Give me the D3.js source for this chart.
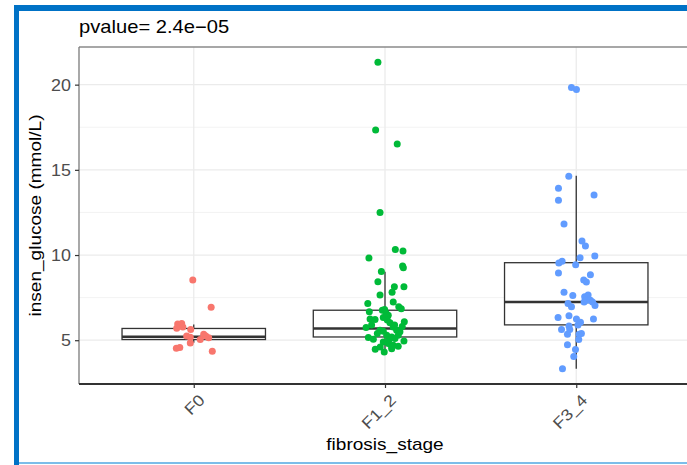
<!DOCTYPE html>
<html>
<head>
<meta charset="utf-8">
<script src="https://cdnjs.cloudflare.com/ajax/libs/d3/7.8.5/d3.min.js"></script>
<style>
  body { margin: 0; background: #fff; }
  text { font-family: "Liberation Sans", Arial, sans-serif; }
</style>
</head>
<body>
<div id="chart"></div>
<script>
// categories and colours
var stages = ["F0", "F1_2", "F3_4"];
var colors = ["#F8766D", "#00BA38", "#619CFF"];
var yTicks = [5, 10, 15, 20];
var yMinor = [7.5, 12.5, 17.5];
var pLabel = "pvalue= 2.4e\u221205";

// box statistics: [lower whisker, q1, median, q3, upper whisker]
var boxF0 = [4.85, 5.04, 5.2, 5.69, 5.92];
var boxF12 = [4.31, 5.19, 5.69, 6.76, 9.02];
var boxF34 = [3.33, 5.9, 7.24, 9.55, 14.65];

// jittered points: [jitter (category units), glucose]
var ptsF0 = [[-0.005,8.53],[0.091,6.94],[-0.084,5.95],[-0.063,5.98],[-0.078,5.85],[-0.057,5.78],
  [-0.089,5.7],[-0.016,5.63],[-0.037,5.24],[-0.018,5.18],[0.052,5.35],[0.063,5.24],[0.078,5.14],
  [0.034,5.04],[-0.018,4.84],[-0.091,4.53],[-0.073,4.57],[0.097,4.35]];
var ptsF12 = [[-0.037,21.31],[-0.049,17.34],[0.064,16.51],[-0.026,12.5],[0.054,10.33],[0.094,10.24],
  [-0.084,9.82],[0.092,9.35],[0.096,9.25],[-0.019,9.04],[-0.037,8.43],[0.099,8.14],[0.049,8.14],
  [0.037,7.82],[-0.026,7.65],[-0.090,7.16],[0.043,7.25],[0.072,6.96],[0.085,6.84],[-0.082,6.67],
  [-0.014,6.76],[-0.002,6.8],[0.017,6.47],[0.101,6.08],[-0.078,6.25],[-0.052,6.22],[-0.009,6.34],
  [0.012,6.18],[0.026,6.02],[-0.099,5.75],[-0.026,5.59],[-0.009,5.53],[0.043,5.78],[0.061,5.59],
  [0.078,5.49],[-0.087,5.16],[-0.061,5.06],[0.009,5.29],[0.035,5.19],[0.052,5.1],[0.069,5.29],
  [0.099,4.96],[-0.009,4.9],[0.017,4.8],[0.043,4.71],[-0.051,4.47],[-0.004,4.31],[0.035,4.61],
  [0.069,4.65],[-0.04,5.4],[0.02,5.0],[0.05,5.9],[-0.07,5.9],[0.005,6.6],[0.09,5.8],[-0.025,4.6],
  [0.035,4.5]];
var ptsF34 = [[-0.025,19.84],[0.001,19.71],[-0.039,14.63],[-0.093,13.92],[0.093,13.53],[-0.093,13.22],
  [-0.064,11.82],[0.030,10.82],[0.048,10.53],[0.020,9.84],[0.097,9.94],[-0.091,9.53],[-0.074,9.63],
  [-0.003,9.43],[-0.093,8.94],[0.074,8.84],[0.039,8.53],[0.053,8.41],[-0.064,7.82],[-0.018,7.63],
  [0.044,7.55],[0.062,7.65],[0.041,7.25],[0.053,7.35],[0.074,7.35],[0.085,7.25],[0.098,7.04],
  [-0.043,7.16],[-0.025,6.96],[-0.095,6.34],[-0.038,6.43],[0.001,6.24],[0.022,6.06],[0.009,5.9],
  [0.090,6.24],[-0.077,5.63],[-0.038,5.84],[-0.034,5.63],[-0.046,5.35],[0.015,5.35],[0.027,5.39],
  [0.013,5.04],[-0.046,4.73],[-0.004,4.45],[-0.013,4.04],[-0.072,3.33]];

var boxes = [boxF0, boxF12, boxF34];
var points = [ptsF0, ptsF12, ptsF34];

var W = 687, H = 465;
var panel = {left: 79, right: 691, top: 47, bottom: 384};
var sx = 1.12; // the text in the original is drawn a little wide

var svg = d3.select("#chart").append("svg")
  .attr("width", W).attr("height", H);

// blue frame around the figure
svg.append("rect").attr("x", 14).attr("y", 5).attr("width", 5).attr("height", H - 5).attr("fill", "#0072C6");
svg.append("rect").attr("x", 14).attr("y", 5).attr("width", W - 14).attr("height", 6).attr("fill", "#0072C6");
svg.append("rect").attr("x", 19).attr("y", 462).attr("width", W - 19).attr("height", 2).attr("fill", "#7cbde9");

var x = d3.scalePoint().domain(stages).range([panel.left, panel.right]).padding(0.6);
var y = d3.scaleLinear().domain([2.43, 22.21]).range([panel.bottom, panel.top]);
var step = x.step();

// grid
var g = svg.append("g");
g.selectAll(".minor").data(yMinor).enter().append("line")
  .attr("x1", panel.left).attr("x2", panel.right)
  .attr("y1", function (d) { return y(d); }).attr("y2", function (d) { return y(d); })
  .attr("stroke", "#f3f3f3").attr("stroke-width", 1);
g.selectAll(".major").data(yTicks).enter().append("line")
  .attr("x1", panel.left).attr("x2", panel.right)
  .attr("y1", function (d) { return y(d); }).attr("y2", function (d) { return y(d); })
  .attr("stroke", "#ebebeb").attr("stroke-width", 1.3);
g.selectAll(".vmajor").data(stages).enter().append("line")
  .attr("y1", panel.top).attr("y2", panel.bottom)
  .attr("x1", function (d) { return x(d); }).attr("x2", function (d) { return x(d); })
  .attr("stroke", "#ebebeb").attr("stroke-width", 1.3);

// boxplots
var bw = step * 0.75;
stages.forEach(function (s, i) {
  var b = boxes[i], cx = x(s);
  var bg = svg.append("g").attr("stroke", "#333").attr("fill", "none");
  bg.append("line").attr("x1", cx).attr("x2", cx).attr("y1", y(b[3])).attr("y2", y(b[4])).attr("stroke-width", 1.3);
  bg.append("line").attr("x1", cx).attr("x2", cx).attr("y1", y(b[1])).attr("y2", y(b[0])).attr("stroke-width", 1.3);
  bg.append("rect").attr("x", cx - bw / 2).attr("width", bw)
    .attr("y", y(b[3])).attr("height", y(b[1]) - y(b[3]))
    .attr("fill", "#fff").attr("stroke-width", 1.3);
  bg.append("line").attr("x1", cx - bw / 2).attr("x2", cx + bw / 2)
    .attr("y1", y(b[2])).attr("y2", y(b[2])).attr("stroke-width", 2.6);
});

// jittered points
stages.forEach(function (s, i) {
  svg.append("g").selectAll("circle").data(points[i]).enter().append("circle")
    .attr("cx", function (d) { return x(s) + d[0] * step; })
    .attr("cy", function (d) { return y(d[1]); })
    .attr("r", 3.5)
    .attr("fill", colors[i]);
});

// panel border and axes
svg.append("line").attr("x1", panel.left).attr("x2", panel.right).attr("y1", panel.top).attr("y2", panel.top)
  .attr("stroke", "#8a8a8a").attr("stroke-width", 1.3);
svg.append("line").attr("x1", panel.left).attr("x2", panel.left).attr("y1", panel.top).attr("y2", panel.bottom)
  .attr("stroke", "#7a7a7a").attr("stroke-width", 1.3);

var yAxis = svg.append("g").attr("transform", "translate(" + panel.left + ",0)")
  .call(d3.axisLeft(y).tickValues(yTicks).tickSize(4).tickPadding(4));
yAxis.select(".domain").remove();
yAxis.selectAll(".tick line").attr("stroke", "#333").attr("stroke-width", 1.2);
yAxis.selectAll(".tick text").attr("fill", "#4d4d4d").style("font-size", "16px")
  .attr("x", null).attr("dy", null)
  .attr("transform", "translate(-8,5.5) scale(" + sx + ",1)");

var xAxis = svg.append("g").attr("transform", "translate(0," + panel.bottom + ")")
  .call(d3.axisBottom(x).tickSize(4).tickFormat(""));
xAxis.select(".domain").attr("stroke", "#333").attr("stroke-width", 1.8)
  .attr("d", "M" + panel.left + ",0H" + panel.right);
xAxis.selectAll(".tick line").attr("stroke", "#333").attr("stroke-width", 1.2);

svg.append("g").selectAll("text").data(stages).enter().append("text")
  .attr("transform", function (d) {
    return "translate(" + (x(d) + 4) + "," + (panel.bottom + 9) + ") rotate(-45) scale(" + sx + ",1)";
  })
  .attr("text-anchor", "end").attr("dy", "0.72em")
  .attr("fill", "#4d4d4d").style("font-size", "16px")
  .text(function (d) { return d; });

// titles
svg.append("text")
  .attr("transform", "translate(" + (panel.left + panel.right) / 2 + ",450) scale(" + sx + ",1)")
  .attr("text-anchor", "middle").style("font-size", "17px").attr("fill", "#000")
  .text("fibrosis_stage");
svg.append("text")
  .attr("transform", "translate(41," + (panel.top + panel.bottom) / 2 + ") rotate(-90) scale(" + sx + ",1)")
  .attr("text-anchor", "middle").style("font-size", "17px").attr("fill", "#000")
  .text("insen_glucose (mmol/L)");
svg.append("text")
  .attr("transform", "translate(" + panel.left + ",33) scale(" + sx + ",1)")
  .style("font-size", "18px").attr("fill", "#000")
  .text(pLabel);
</script>
</body>
</html>
